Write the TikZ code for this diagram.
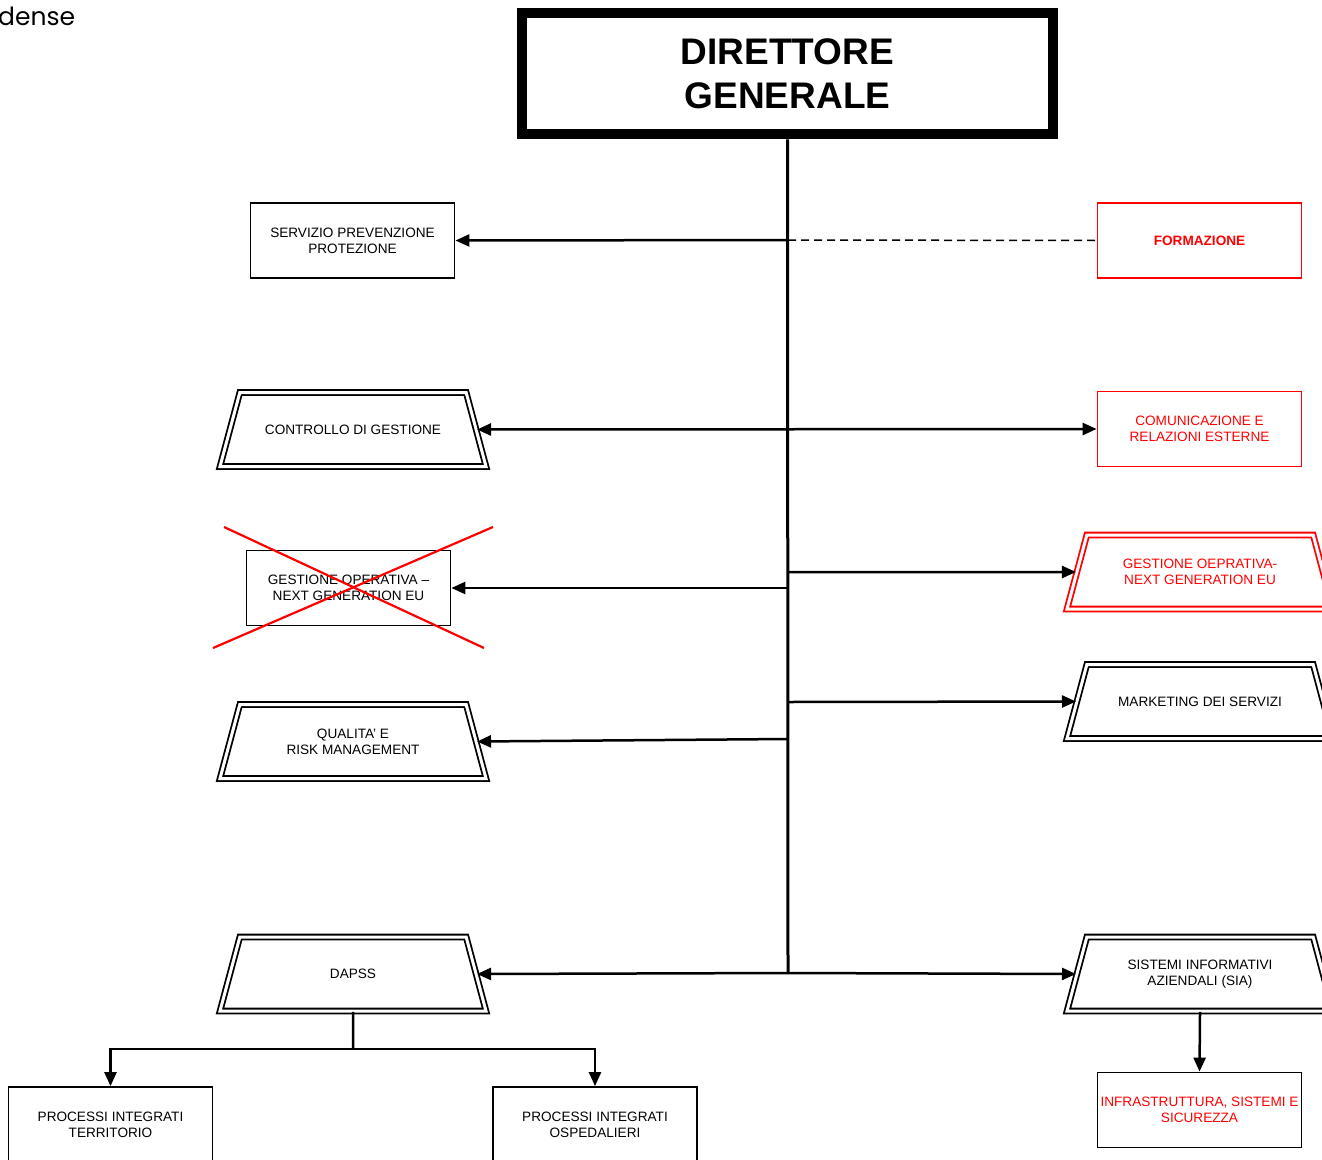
\documentclass[tikz,border=0pt]{standalone}
\usepackage{fontspec}
\setmainfont{Liberation Sans}
\newfontfamily\geofont{Poppins}
\usetikzlibrary{shapes.geometric,arrows.meta}
\begin{document}
\begin{tikzpicture}[x=1pt,y=-1pt,
  lbl/.style={font=\fontsize{13.6}{16}\selectfont, align=center},
  box/.style={lbl, draw, line width=1.8pt, minimum width=204pt, minimum height=75pt, inner sep=0pt},
  redbox/.style={box, draw=red, text=red},
  trap/.style={font=\fontsize{13.6}{16}\selectfont, trapezium, trapezium left angle=75, trapezium right angle=75,
    trapezium stretches body, draw, double=white, double distance=3pt, line width=1.8pt,
    minimum width=266pt, inner sep=0pt,
    execute at begin node={\begin{minipage}[c][74pt][c]{190pt}\centering},
    execute at end node={\end{minipage}}},
  redtrap/.style={trap, draw=red, text=red},
  arr/.style={line width=2.5pt, -{Triangle[length=14pt,width=12pt]}},
  darr/.style={line width=2.5pt, {Triangle[length=14pt,width=12pt]}-{Triangle[length=14pt,width=12pt]}},
  link/.style={line width=2.5pt},
  dashlink/.style={line width=1.5pt, dash pattern=on 8pt off 5pt},
  cross/.style={red, line width=2.2pt}
]
\useasboundingbox (0,0) rectangle (1322,1159);
\clip (0,0) rectangle (1322,1159);

% header text
\node[anchor=base west, inner sep=0pt, font=\geofont\fontsize{25}{25}\selectfont] (hdr) at (-2,25) {dense};

% director
\node[draw, line width=10.5pt, minimum width=531pt, minimum height=121pt, inner sep=0pt,
      align=center, font=\bfseries\fontsize{37}{44}\selectfont] (dg) at (787.5,73.5) {DIRETTORE\\GENERALE};

% trunk coordinates
\coordinate (t1) at (788,240);
\coordinate (t3) at (788,588);
\coordinate (t4) at (788,572);
\coordinate (t5) at (788,702);
\coordinate (t6) at (788,739);
\coordinate (tend) at (788,973);

% left column
\node[box] (spp) at (352.5,240.5) {SERVIZIO PREVENZIONE\\PROTEZIONE};
\node[trap] (cdg) at (353,429.5) {CONTROLLO DI GESTIONE};
\node[box] (gon) at (348.5,588) {GESTIONE OPERATIVA --\\NEXT GENERATION EU};
\node[trap] (qrm) at (353,741.5) {QUALITA' E\\RISK MANAGEMENT};
\node[trap] (dapss) at (353,974) {DAPSS};
\node[box] (pit) at (110.5,1124.5) {PROCESSI INTEGRATI\\TERRITORIO};
\node[box] (pio) at (595,1124.5) {PROCESSI INTEGRATI\\OSPEDALIERI};

% right column
\node[redbox, font=\bfseries\fontsize{13.6}{16}\selectfont] (form) at (1199.5,240.5) {FORMAZIONE};
\node[redbox] (com) at (1199.5,429) {COMUNICAZIONE E\\RELAZIONI ESTERNE};
\node[redtrap] (gong) at (1200,572) {GESTIONE OEPRATIVA-\\NEXT GENERATION EU};
\node[trap] (mkt) at (1200,701.5) {MARKETING DEI SERVIZI};
\node[trap] (sia) at (1200,974) {SISTEMI INFORMATIVI\\AZIENDALI (SIA)};
\node[box, text=red] (infra) at (1199.5,1110) {INFRASTRUTTURA, SISTEMI E\\SICUREZZA};

% connectors
\draw[link, line width=3pt] (dg.south) -- (tend);
\draw[arr] (t1) -- (spp.east);
\draw[dashlink] (t1) -- (form.west);
\draw[darr] (cdg.east) -- (com.west);
\draw[arr] (t3) -- (gon.east);
\draw[arr] (t4) -- (gong.west);
\draw[arr] (t5) -- (mkt.west);
\draw[arr] (t6) -- (qrm.east);
\draw[arr] (tend) -- (dapss.east);
\draw[arr] (tend) -- (sia.west);
\draw[arr] (sia.south) -- (infra.north);
\coordinate (dj) at (353,1049);
\draw[link] (dapss.south) -- (dj);
\draw[arr] (dj) -| (pit.north);
\draw[arr] (dj) -| (pio.north);

% cross over obsolete box
\draw[cross] (224,527) -- (484,648);
\draw[cross] (213,648) -- (493,527);
\end{tikzpicture}
\end{document}
